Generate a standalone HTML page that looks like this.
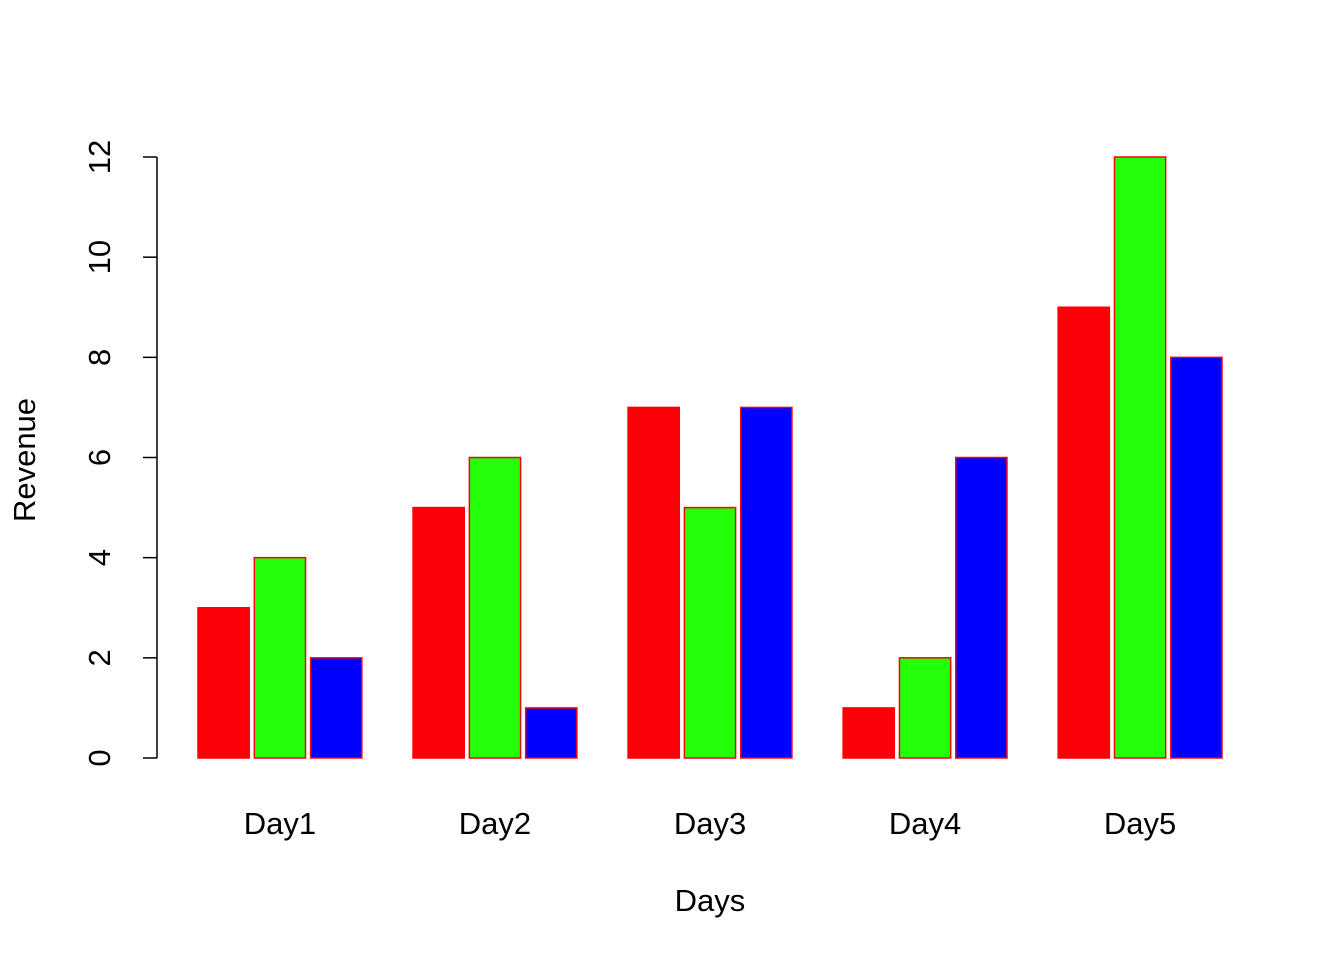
<!DOCTYPE html>
<html><head><meta charset="utf-8"><style>body{margin:0;background:#fff}svg{display:block;font-family:"Liberation Sans",Arial,sans-serif}</style></head>
<body>
<svg id="chart" width="1344" height="960">
<g id="bars"></g>
<g id="yaxis"></g>
<g id="xlabels"></g>
<text x="710" y="911" font-size="31" text-anchor="middle">Days</text>
<text transform="translate(35,460) rotate(-90)" font-size="31" text-anchor="middle">Revenue</text>
</svg>
<script>
const categories = ["Day1","Day2","Day3","Day4","Day5"];
const series1 = [3,5,7,1,9];
const series2 = [4,6,5,2,12];
const series3 = [2,1,7,6,8];
const yTicks = [0,2,4,6,8,10,12];
const colors = ["#fb0007","#22ff08","#0000ff"];
const ns="http://www.w3.org/2000/svg";
const y0=758, pxPerUnit=(758-157)/12;
const yScale=v=>y0-v*pxPerUnit;
const w=51.2, gap=5.12, groupStart=198, groupStep=4.2*w;
const xBar=(g,j)=>groupStart+g*groupStep+j*(w+gap);
const bars=document.getElementById('bars');
const all=[series1,series2,series3];
categories.forEach((c,g)=>{
  all.forEach((s,j)=>{
    const r=document.createElementNS(ns,'rect');
    r.setAttribute('x',xBar(g,j));r.setAttribute('y',yScale(s[g]));
    r.setAttribute('width',w);r.setAttribute('height',s[g]*pxPerUnit);
    r.setAttribute('fill',colors[j]);r.setAttribute('stroke','#fb0007');r.setAttribute('stroke-width','1.5');
    
    
    bars.appendChild(r);
  });
  const t=document.createElementNS(ns,'text');
  t.setAttribute('x',xBar(g,0)+(3*w+2*gap)/2);t.setAttribute('y',834);
  t.setAttribute('font-size','31');t.setAttribute('text-anchor','middle');
  t.textContent=c;
  
  
  document.getElementById('xlabels').appendChild(t);
});
const ya=document.getElementById('yaxis');
const l=document.createElementNS(ns,'line');
l.setAttribute('x1',157);l.setAttribute('x2',157);l.setAttribute('y1',yScale(yTicks[0]));l.setAttribute('y2',yScale(yTicks[yTicks.length-1]));
l.setAttribute('stroke','#000');l.setAttribute('stroke-width','1.5');


ya.appendChild(l);
yTicks.forEach(v=>{
  const tk=document.createElementNS(ns,'line');
  tk.setAttribute('x1',143);tk.setAttribute('x2',157);tk.setAttribute('y1',yScale(v));tk.setAttribute('y2',yScale(v));
  tk.setAttribute('stroke','#000');tk.setAttribute('stroke-width','1.5');
  
  
  ya.appendChild(tk);
  const t=document.createElementNS(ns,'text');
  t.setAttribute('transform','translate(110,'+yScale(v)+') rotate(-90)');
  t.setAttribute('font-size','31');t.setAttribute('text-anchor','middle');
  t.textContent=v;
  
  
  ya.appendChild(t);
});
</script>
</body></html>
